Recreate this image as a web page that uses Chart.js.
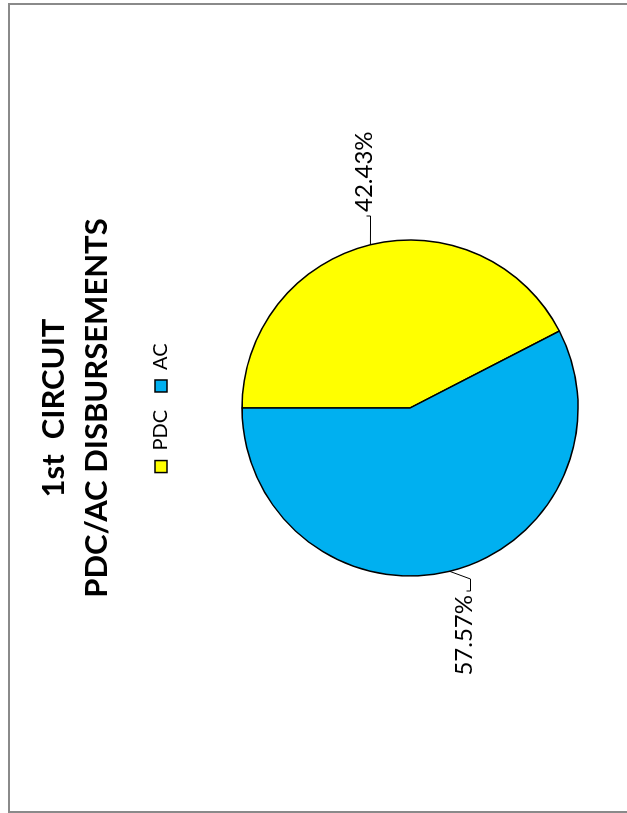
<!DOCTYPE html>
<html>
<head>
<meta charset="utf-8">
<script src="https://cdn.jsdelivr.net/npm/chart.js@4.4.0/dist/chart.umd.min.js"></script>
<style>
  html, body { margin: 0; padding: 0; background: #fff; overflow: hidden; width: 627px; height: 813px; }
  #frame { position: absolute; left: 8px; top: 3px; width: 700px; height: 806px; border: 2px solid #8a8a8a; }
  /* the whole chart is turned a quarter turn to the left, like the sheet it came from */
  #wrap { position: absolute; left: 10px; top: 5px; width: 806px; height: 640px;
          transform-origin: 0 0; transform: translate(0, 806px) rotate(-90deg); }
</style>
</head>
<body>
<div id="frame"></div>
<div id="wrap"><canvas id="chartPie" width="806" height="640"></canvas></div>
<script>
// Данные графика
var sliceLabels = ['PDC', 'AC'];
var sliceShares = [42.43, 57.57];
var sliceColors = ['#FFFF00', '#00B0F0'];
var titleLines = ['1st  CIRCUIT', 'PDC/AC DISBURSEMENTS'];

Chart.defaults.font.family = 'Lato';
Chart.defaults.color = '#000';

// подписи снаружи круга с выносками, как в Excel
var leaderLabels = {
    id: 'leaderLabels',
    afterDatasetsDraw: function(chart, args, opts) {
        var ctx = chart.ctx;
        var meta = chart.getDatasetMeta(0);
        ctx.save();
        ctx.font = opts.fontSize + 'px Lato';
        ctx.fillStyle = '#000';
        ctx.strokeStyle = '#000';
        ctx.lineWidth = 1;
        meta.data.forEach(function(arc, i) {
            var mid = (arc.startAngle + arc.endAngle) / 2;
            var ex = arc.x + Math.cos(mid) * arc.outerRadius;
            var ey = arc.y + Math.sin(mid) * arc.outerRadius;
            var off = opts.offsets[i];
            var ax = arc.x + off.x, ay = arc.y + off.y;
            var right = off.x > 0;
            var endX = right ? ax - 4 : ax + 4;
            var elbowX = right ? endX - 12 : endX + 12;
            var lineY = ay - 1.5;
            ctx.beginPath();
            ctx.moveTo(ex, ey);
            ctx.lineTo(elbowX, lineY);
            ctx.lineTo(endX, lineY);
            ctx.lineTo(endX, lineY - 4);
            ctx.stroke();
            ctx.textAlign = right ? 'left' : 'right';
            ctx.textBaseline = 'alphabetic';
            ctx.fillText(sliceShares[i].toFixed(2) + '%', ax, ay);
        });
        ctx.restore();
    }
};

new Chart(document.getElementById('chartPie'), {
    type: 'pie',
    data: {
        labels: sliceLabels,
        datasets: [{
            data: sliceShares,
            backgroundColor: sliceColors,
            borderColor: '#000',
            borderWidth: 1.5,
        }],
    },
    options: {
        responsive: false,
        animation: false,
        radius: 168,
        layout: { padding: { top: 0, bottom: 11, left: 0, right: 0 } },
        plugins: {
            title: {
                display: true,
                text: titleLines,
                color: '#000',
                font: { family: 'Lato', size: 31, weight: 'bold', lineHeight: '43px' },
                padding: { top: 22, bottom: 15 },
            },
            legend: {
                position: 'top',
                labels: { boxWidth: 12, boxHeight: 12, padding: 18, color: '#000', font: { family: 'Lato', size: 20 } },
            },
            tooltip: { enabled: false },
            leaderLabels: {
                fontSize: 24,
                offsets: [{ x: 196, y: -38 }, { x: -187, y: 62 }],
            },
        },
    },
    plugins: [leaderLabels],
});
</script>
</body>
</html>
